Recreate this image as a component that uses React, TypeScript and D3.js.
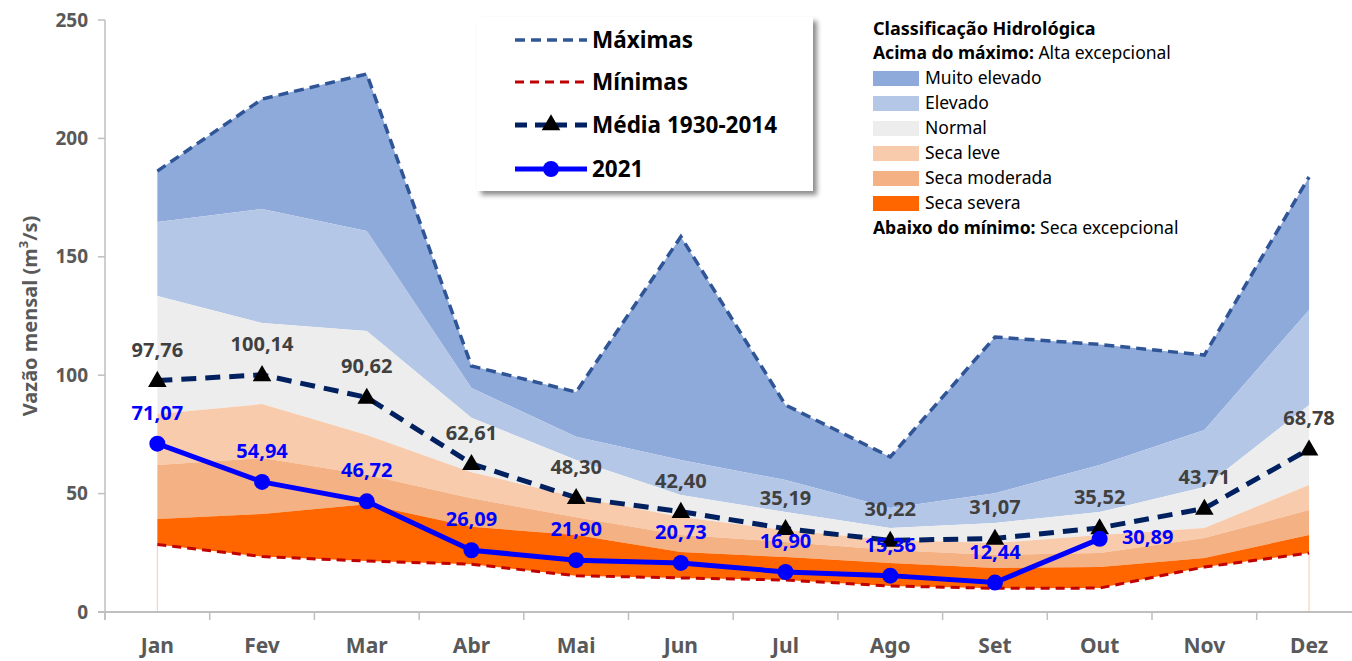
import React from 'react';
import * as d3 from 'd3';

const months = ['Jan', 'Fev', 'Mar', 'Abr', 'Mai', 'Jun', 'Jul', 'Ago', 'Set', 'Out', 'Nov', 'Dez'];

// limites das classes (m3/s)
const maximas = [186.2, 216.6, 227.2, 103.9, 92.9, 158.5, 87.4, 65.5, 116.1, 113, 108.5, 183.7];
const limMuitoElevado = [164.7, 170.2, 160.9, 94.6, 74, 64.2, 55.7, 43.9, 50.2, 62.1, 76.9, 127.5];
const limElevado = [133.4, 122, 118.7, 82, 64.2, 49.4, 42.2, 35.5, 37.6, 42.2, 52.8, 87.4];
const limNormal = [83.6, 87.8, 74.7, 59, 48.6, 40.1, 34.6, 30.4, 29.1, 32.5, 35.5, 53.6];
const limSecaLeve = [62.1, 65, 58, 48, 40, 32.5, 29.6, 26.2, 24.1, 24.9, 31.2, 43.1];
const limSecaModerada = [39.3, 41.4, 45.5, 36, 32.5, 25.3, 23.2, 20.7, 18.6, 19, 22.8, 32.5];
const minimas = [28.5, 23.4, 21.5, 20.2, 15.3, 14.4, 13.5, 11, 10, 10.1, 19, 24.9];

const media = [97.76, 100.14, 90.62, 62.61, 48.3, 42.4, 35.19, 30.22, 31.07, 35.52, 43.71, 68.78];
const ano2021: (number | null)[] = [71.07, 54.94, 46.72, 26.09, 21.9, 20.73, 16.9, 15.36, 12.44, 30.89, null, null];

const yTicks = [0, 50, 100, 150, 200, 250];

const bandNames = ['Muito elevado', 'Elevado', 'Normal', 'Seca leve', 'Seca moderada', 'Seca severa'];
const bandColors = ['#8eaadb', '#b4c7e7', '#ededed', '#f8cbad', '#f4b183', '#ff6600'];

const W = 1352;
const H = 661;
const FONT = '"Noto Sans", sans-serif';

const fmt = (v: number) => v.toFixed(2).replace('.', ',');

export default function App() {
  const x = d3.scaleBand().domain(months).range([105, 105 + 12 * 104.7]).padding(0);
  const cx = (m: string) => (x(m) as number) + x.bandwidth() / 2;
  const y = d3.scaleLinear().domain([0, 250]).range([612, 20]);

  const bounds = [maximas, limMuitoElevado, limElevado, limNormal, limSecaLeve, limSecaModerada, minimas];

  const bandPath = (top: number[], bottom: number[]) =>
    d3
      .area<number>()
      .x((_, i) => cx(months[i]))
      .y1((_, i) => y(top[i]))
      .y0((_, i) => y(bottom[i]))(top);

  const line = d3
    .line<number | null>()
    .defined((d) => d != null)
    .x((_, i) => cx(months[i]))
    .y((d) => y(d as number));

  const tri = d3.symbol().type(d3.symbolTriangle).size(150)();

  const legendRows = [
    { label: 'Máximas', y: 40 },
    { label: 'Mínimas', y: 82 },
    { label: 'Média 1930-2014', y: 125 },
    { label: '2021', y: 169 },
  ];

  return (
    <svg width={W} height={H} style={{ position: 'absolute', left: 0, top: 0, background: '#fff' }} fontFamily={FONT}>
      <defs>
        <filter id="sh" x="-10%" y="-10%" width="130%" height="130%">
          <feDropShadow dx="4" dy="4" stdDeviation="2.5" floodColor="#000" floodOpacity="0.45" />
        </filter>
      </defs>

      {/* faixas de classificação */}
      {bandNames.map((name, i) => (
        <path key={name} d={bandPath(bounds[i], bounds[i + 1]) || ''} fill={bandColors[i]} stroke="none" />
      ))}
      <line x1={cx('Jan')} x2={cx('Jan')} y1={y(minimas[0])} y2={y(0)} stroke="#f8cbad" strokeWidth={1} />
      <line x1={cx('Dez')} x2={cx('Dez')} y1={y(minimas[11])} y2={y(0)} stroke="#f8cbad" strokeWidth={1} />

      {/* eixos */}
      <line x1={105} x2={105} y1={y(250)} y2={y(0) + 8} stroke="#bfbfbf" strokeWidth={1.5} />
      {yTicks.map((t) => (
        <g key={t}>
          <line x1={98} x2={105} y1={y(t)} y2={y(t)} stroke="#bfbfbf" strokeWidth={1.5} />
          <text x={88} y={y(t)} dy="0.35em" textAnchor="end" fontSize={19} fontWeight="bold" fill="#595959">
            {t}
          </text>
        </g>
      ))}
      <line x1={98} x2={W} y1={y(0)} y2={y(0)} stroke="#bfbfbf" strokeWidth={2} />
      {months.map((m) => (
        <g key={m}>
          <line x1={x(m)} x2={x(m)} y1={y(0)} y2={y(0) + 8} stroke="#bfbfbf" strokeWidth={1.5} />
          <text x={cx(m)} y={646} dy="0.35em" textAnchor="middle" fontSize={21} fontWeight="bold" fill="#595959">
            {m}
          </text>
        </g>
      ))}
      <text
        transform={`translate(30,316) rotate(-90)`}
        textAnchor="middle"
        dy="0.35em"
        fontSize={20}
        fontWeight="bold"
        fill="#595959"
      >
        Vazão mensal (m<tspan baselineShift="super" fontSize={13}>3</tspan>/s)
      </text>

      {/* linhas */}
      <path d={line(maximas) || ''} fill="none" stroke="#2f5597" strokeWidth={3.5} strokeDasharray="10 6" />
      <path d={line(minimas) || ''} fill="none" stroke="#c00000" strokeWidth={3} strokeDasharray="9 6" />
      <path d={line(media) || ''} fill="none" stroke="#002060" strokeWidth={5} strokeDasharray="15 9" />
      {media.map((v, i) => (
        <path key={i} d={tri || ''} transform={`translate(${cx(months[i])},${y(v) + 1})`} fill="#000" />
      ))}
      <path d={line(ano2021) || ''} fill="none" stroke="#0000ff" strokeWidth={5} />
      {ano2021.map((v, i) =>
        v == null ? null : <circle key={i} cx={cx(months[i])} cy={y(v)} r={8} fill="#0000ff" />
      )}

      {/* rótulos */}
      {media.map((v, i) => (
        <text
          key={i}
          x={cx(months[i])}
          y={y(v) - 31}
          dy="0.35em"
          textAnchor="middle"
          fontSize={20}
          fontWeight="bold"
          fill="#404040"
        >
          {fmt(v)}
        </text>
      ))}
      {ano2021.map((v, i) =>
        v == null ? null : (
          <text
            key={i}
            x={months[i] === 'Out' ? cx(months[i]) + 48 : cx(months[i])}
            y={months[i] === 'Out' ? y(v) - 2 : y(v) - 31}
            dy="0.35em"
            textAnchor="middle"
            fontSize={20}
            fontWeight="bold"
            fill="#0000ff"
          >
            {fmt(v)}
          </text>
        )
      )}

      {/* legenda das séries */}
      <rect x={477} y={17} width={336} height={174} fill="#fff" filter="url(#sh)" />
      {legendRows.map((r, i) => (
        <g key={r.label}>
          {i === 0 && <line x1={515} x2={587} y1={r.y} y2={r.y} stroke="#2f5597" strokeWidth={3.5} strokeDasharray="10 6" />}
          {i === 1 && <line x1={515} x2={587} y1={r.y} y2={r.y} stroke="#c00000" strokeWidth={3} strokeDasharray="9 6" />}
          {i === 2 && (
            <g>
              <line x1={515} x2={587} y1={r.y} y2={r.y} stroke="#002060" strokeWidth={5} strokeDasharray="12 8" />
              <path d={tri || ''} transform={`translate(551,${r.y})`} fill="#000" />
            </g>
          )}
          {i === 3 && (
            <g>
              <line x1={515} x2={587} y1={r.y} y2={r.y} stroke="#0000ff" strokeWidth={5} />
              <circle cx={551} cy={r.y} r={8} fill="#0000ff" />
            </g>
          )}
          <text x={592} y={r.y} dy="0.35em" fontSize={22.5} fontWeight="bold" fill="#000">
            {r.label}
          </text>
        </g>
      ))}

      {/* legenda da classificação */}
      <g fontSize={17.5} fill="#000">
        <text x={873} y={29} dy="0.35em" fontWeight="bold" fontSize={18}>
          Classificação Hidrológica
        </text>
        <text x={873} y={53} dy="0.35em">
          <tspan fontWeight="bold">Acima do máximo:</tspan> Alta excepcional
        </text>
        {bandNames.map((name, i) => (
          <g key={name}>
            <rect x={873} y={71 + i * 25} width={46} height={15} fill={bandColors[i]} />
            <text x={925} y={78 + i * 25} dy="0.35em">
              {name}
            </text>
          </g>
        ))}
        <text x={873} y={228} dy="0.35em">
          <tspan fontWeight="bold">Abaixo do mínimo:</tspan> Seca excepcional
        </text>
      </g>
    </svg>
  );
}
